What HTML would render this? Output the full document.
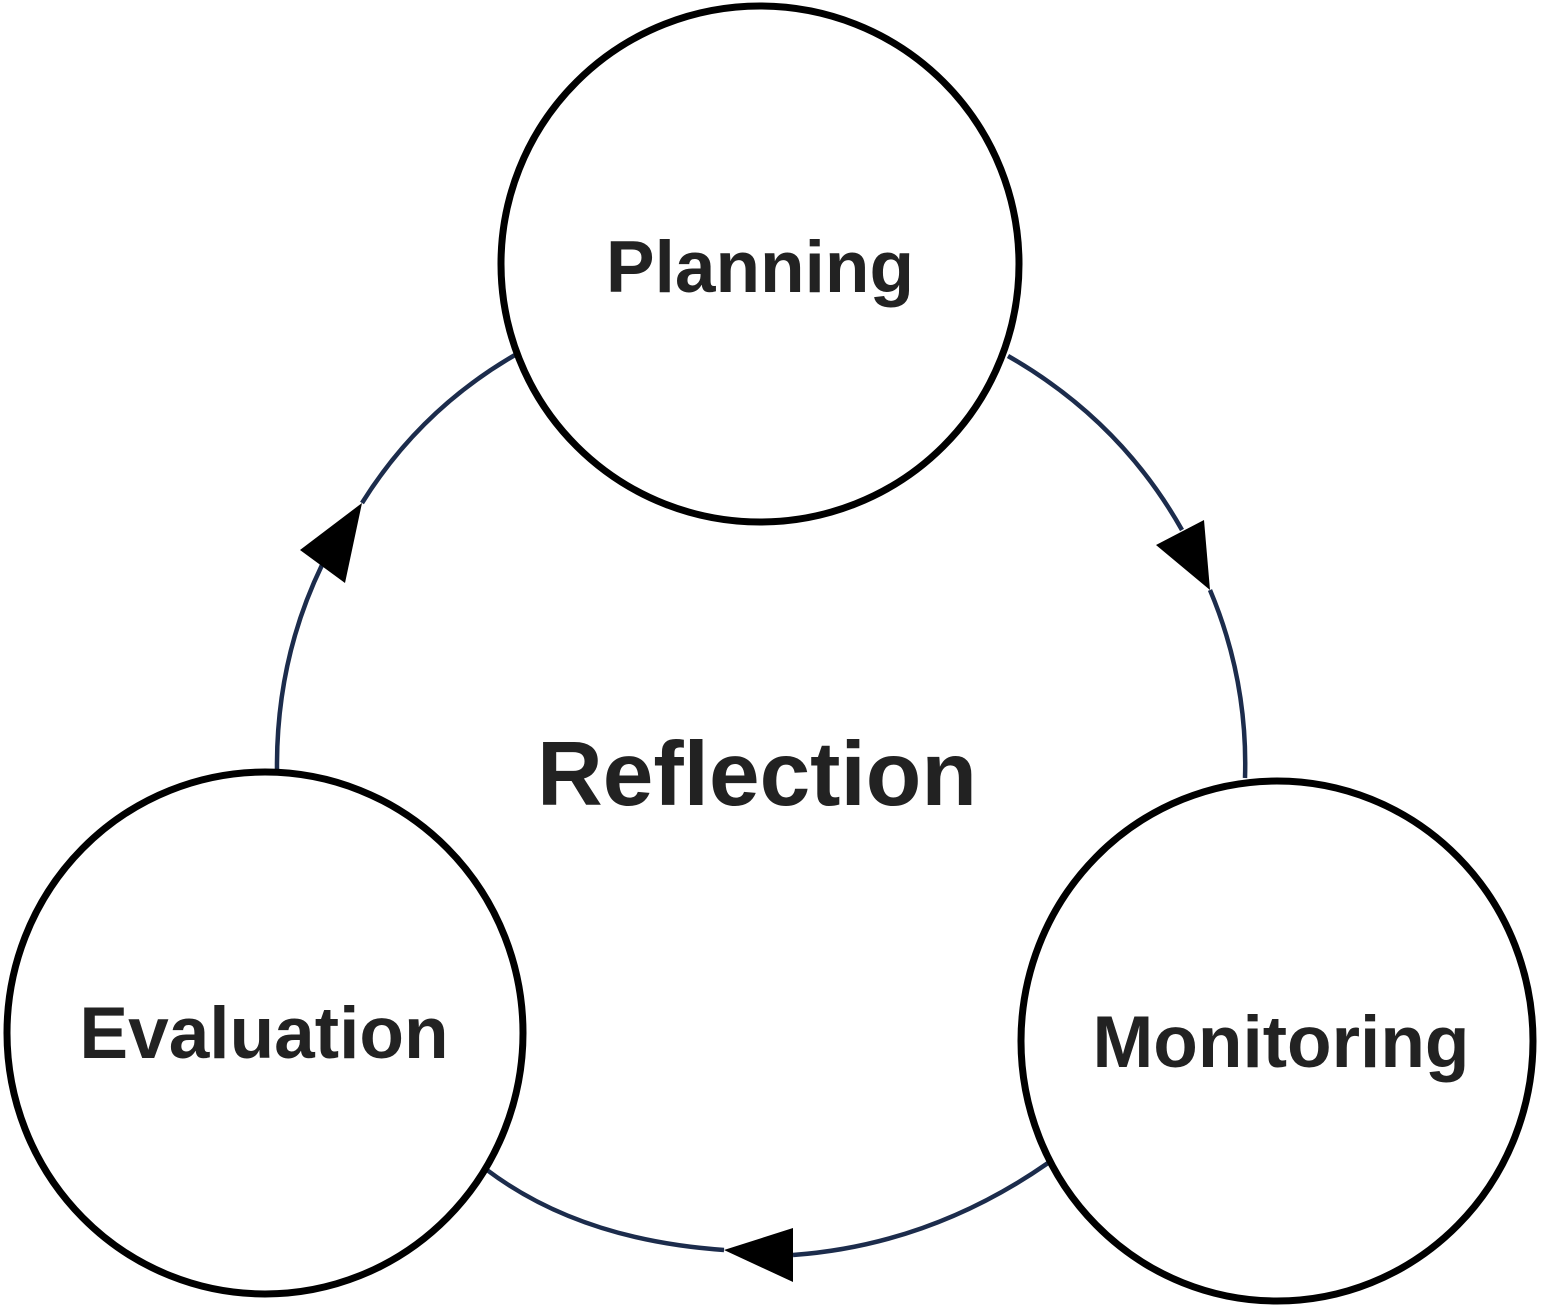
<!DOCTYPE html>
<html><head><meta charset="utf-8"><style>
html,body{margin:0;padding:0;background:#fff;}
svg{display:block;}
text{font-family:"Liberation Sans",sans-serif;font-weight:bold;fill:#222;}
</style></head><body>
<svg width="1546" height="1307" viewBox="0 0 1546 1307" xmlns="http://www.w3.org/2000/svg">
<g fill="none" stroke="#1c2c4c" stroke-width="4.5">
<path d="M1008,356 Q1120,420 1182,530"/>
<path d="M1210,590 Q1248,680 1245,778"/>
<path d="M277,770 Q276,660 322,565"/>
<path d="M362,503 Q420,410 515,355"/>
<path d="M1048,1163 Q930,1245 793,1255"/>
<path d="M724,1250 Q580,1240 487,1170"/>
</g>
<g fill="#000">
<polygon points="1156,545 1204,520 1210,590"/>
<polygon points="300,550 362,503 345,583"/>
<polygon points="793,1228 793,1282 724,1250"/>
</g>
<g fill="#fff" stroke="#000" stroke-width="7">
<ellipse cx="760" cy="264" rx="259" ry="258"/>
<ellipse cx="265" cy="1033" rx="258" ry="261"/>
<ellipse cx="1277" cy="1041" rx="256" ry="260"/>
</g>
<text x="760" y="292" font-size="73" text-anchor="middle">Planning</text>
<text x="264" y="1058" font-size="73" text-anchor="middle">Evaluation</text>
<text x="1281" y="1067" font-size="73" text-anchor="middle">Monitoring</text>
<text x="757" y="805" font-size="91" text-anchor="middle">Reflection</text>
</svg>
</body></html>
